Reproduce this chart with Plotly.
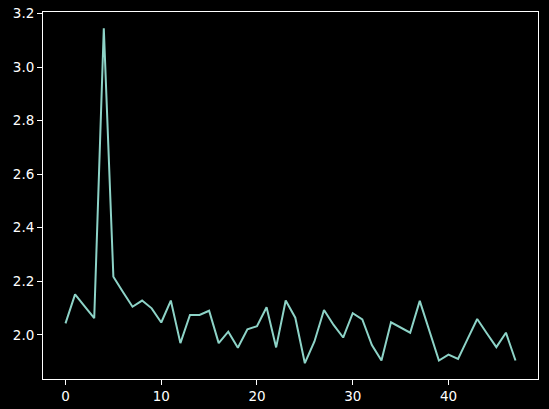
import plotly.graph_objects as go

x_values = list(range(48))
y_values = [
    2.043, 2.151, 2.106, 2.062, 3.145, 2.217, 2.160, 2.105, 2.128, 2.099,
    2.046, 2.128, 1.969, 2.074, 2.074, 2.090, 1.969, 2.012, 1.952, 2.021,
    2.032, 2.103, 1.953, 2.128, 2.064, 1.894, 1.975, 2.093, 2.037, 1.990,
    2.081, 2.058, 1.962, 1.904, 2.047, 2.027, 2.008, 2.127, 2.015, 1.904,
    1.926, 1.910, 1.985, 2.059, 2.006, 1.954, 2.008, 1.904,
]
x_ticks = [0, 10, 20, 30, 40]
y_ticks = [2.0, 2.2, 2.4, 2.6, 2.8, 3.0, 3.2]

fig = go.Figure(
    go.Scatter(x=x_values, y=y_values, mode="lines",
               line=dict(color="#8dd3c7", width=2), hoverinfo="skip")
)

axis_common = dict(
    showgrid=False, zeroline=False, showline=True, linecolor="white",
    linewidth=1, mirror=True, ticks="outside", ticklen=5, tickwidth=1,
    tickcolor="white", automargin=False,
    tickfont=dict(family="DejaVu Sans", size=13.5, color="white"),
)

fig.update_layout(
    width=549, height=409,
    margin=dict(l=43, r=11, t=12, b=30),
    paper_bgcolor="black", plot_bgcolor="black",
    showlegend=False,
    xaxis=dict(range=[-2.35, 49.35], tickvals=x_ticks, **axis_common),
    yaxis=dict(range=[1.835, 3.206], tickvals=y_ticks, tickformat=".1f", **axis_common),
)

fig.write_html(
    "out.html",
    config={"displayModeBar": False},
    post_script="document.body.style.margin='0';document.body.style.overflow='hidden';document.body.style.background='black';",
)
